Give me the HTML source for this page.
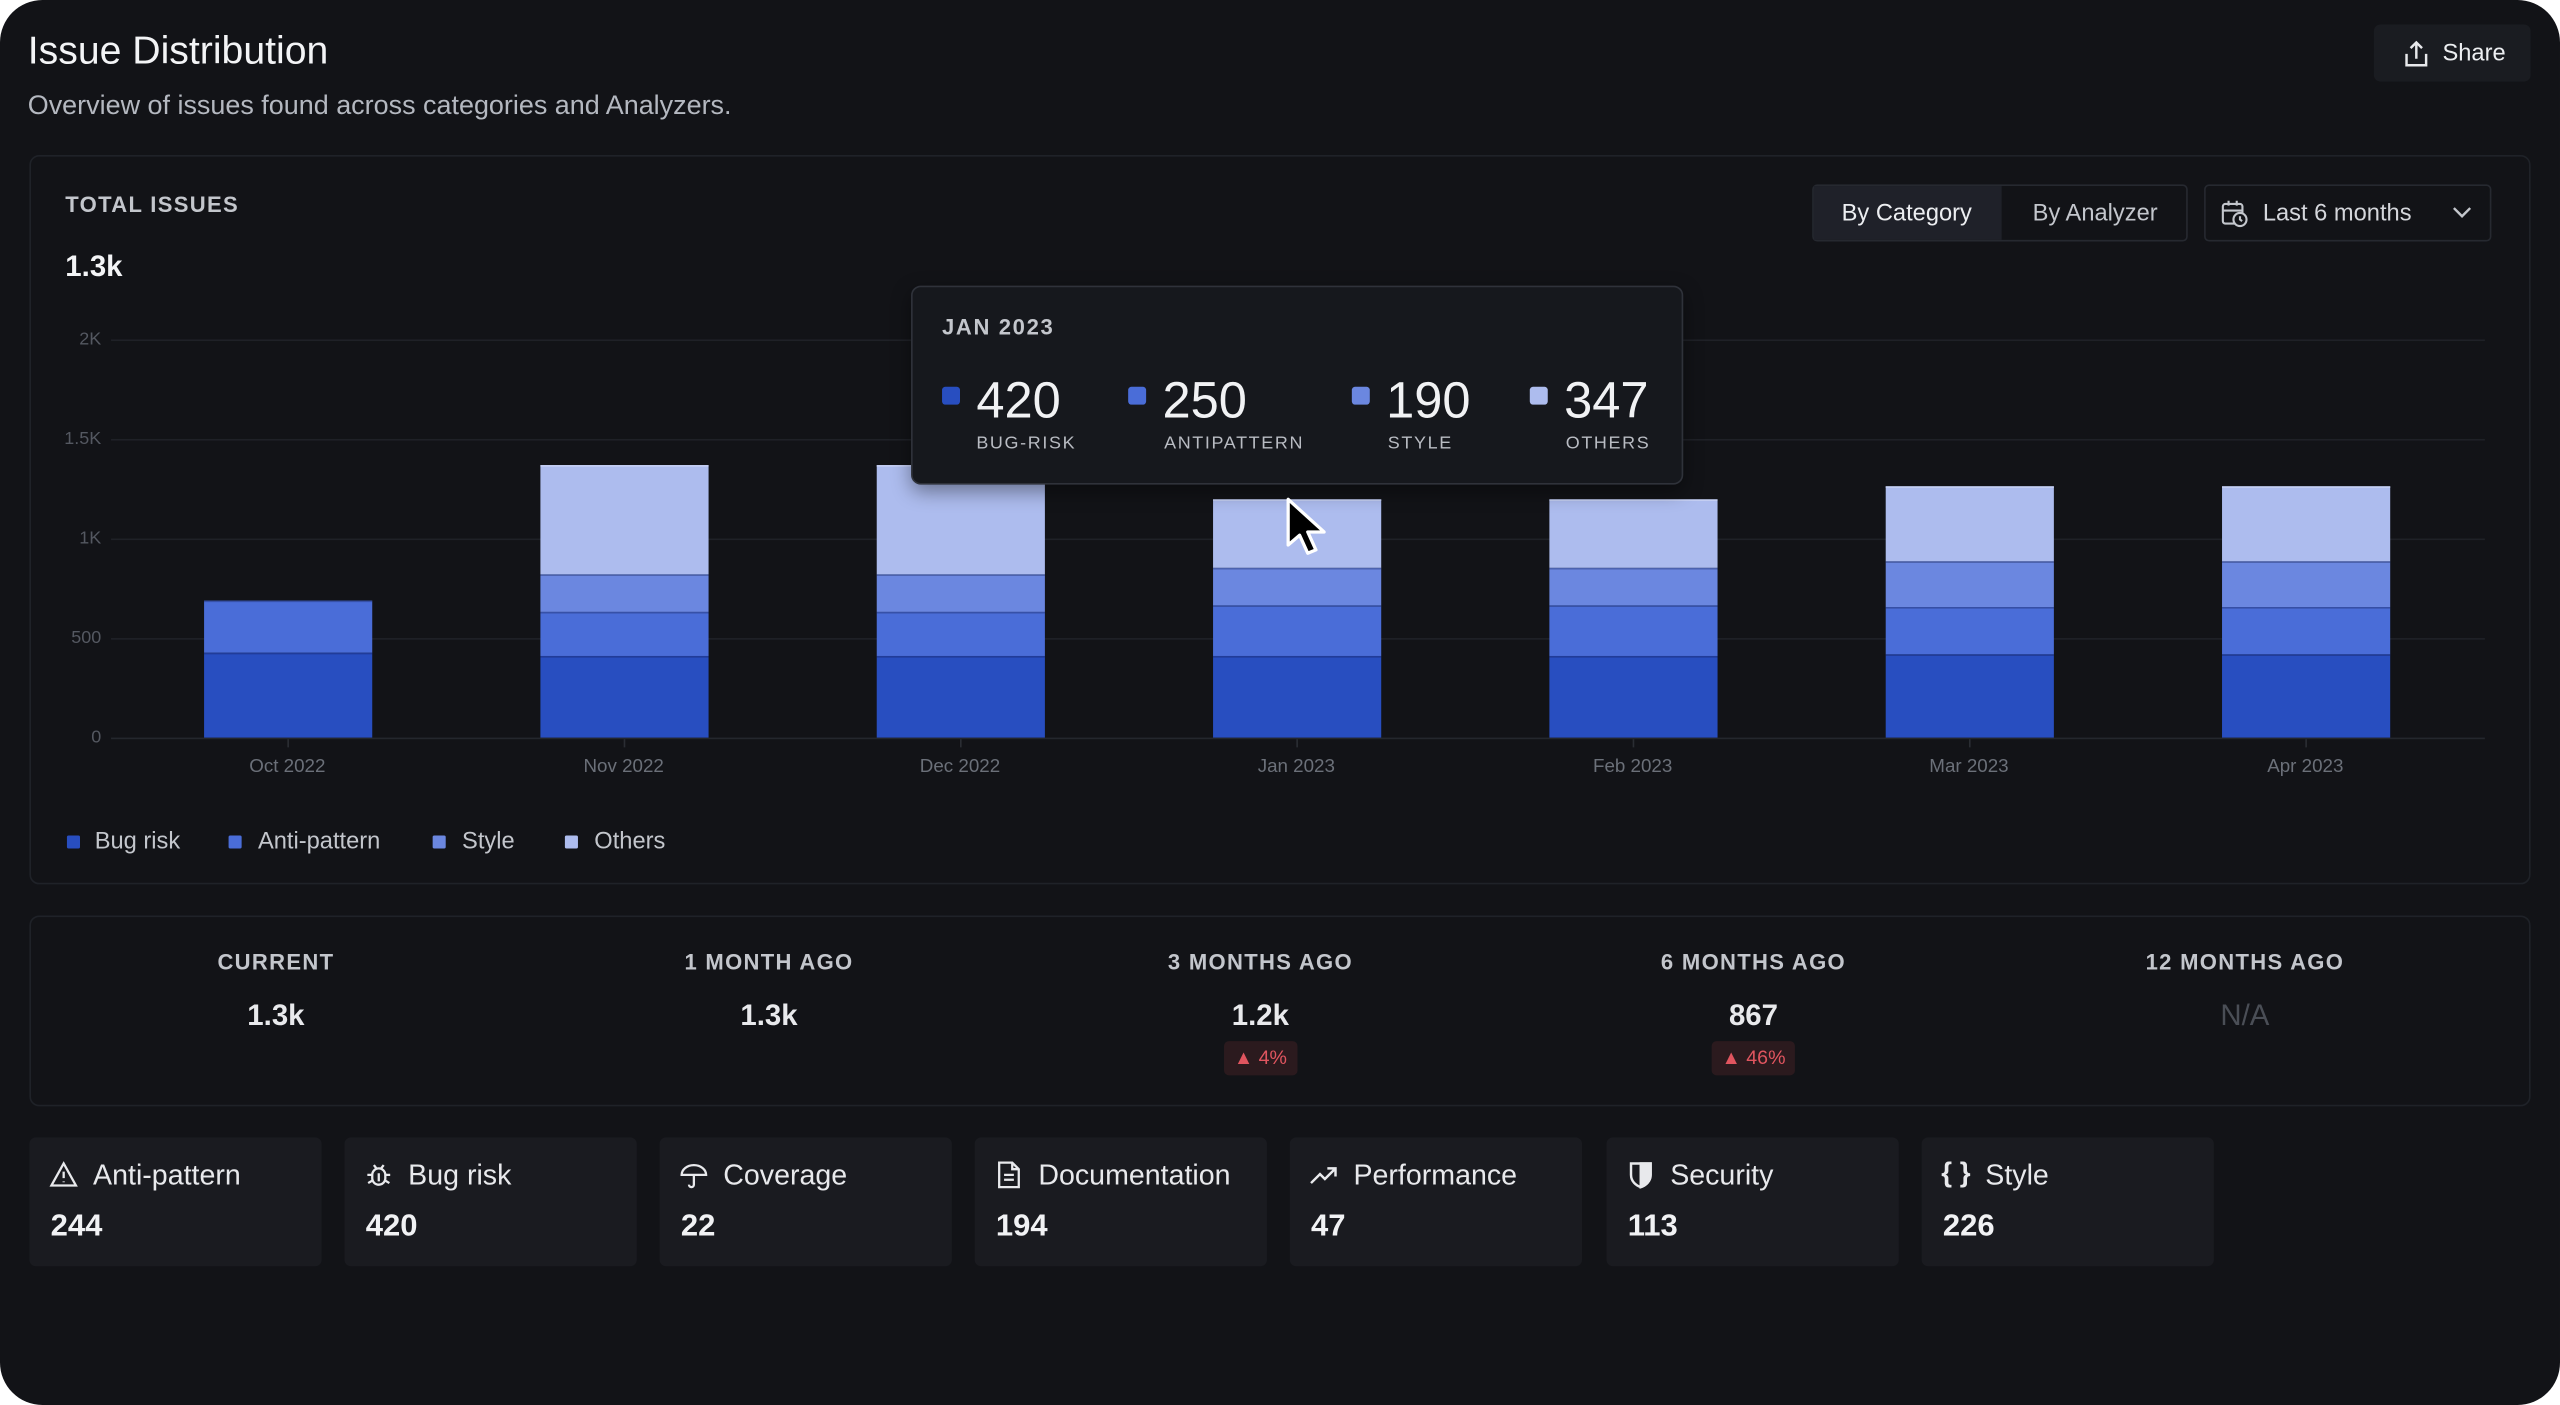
<!DOCTYPE html>
<html><head><meta charset="utf-8"><style>
*{margin:0;padding:0;box-sizing:border-box}
html,body{width:2560px;height:1405px;background:#fff;overflow:hidden}
#s{position:absolute;left:0;top:0;width:1568px;height:861px;transform:scale(1.63265,1.6318);transform-origin:0 0;font-family:"Liberation Sans",sans-serif;color:#e8e9ec}
.card{position:absolute;left:0;top:0;width:1568px;height:861px;background:#121317;border-radius:26px}
.a{position:absolute;white-space:nowrap}
.panel{position:absolute;border:1px solid #1f2228;border-radius:6px}
.cap{font-size:13.5px;font-weight:700;letter-spacing:.8px;color:#c3c6cc}
.yl{position:absolute;right:1506px;font-size:11px;color:#545861;transform:translateY(-50%)}
.gl{position:absolute;left:68px;width:1454px;height:1px;background:#1f2127}
.xl{position:absolute;font-size:11.5px;color:#6b7079;transform:translateX(-50%);top:464px}
.tk{position:absolute;width:1px;height:5px;background:#2a2d33;top:453px}
.bar{position:absolute;width:103px}
.bar div{position:absolute;left:0;width:103px;border-top:1px solid rgba(20,30,80,.35)}
.lg{position:absolute;top:512px;width:8px;height:8px;border-radius:1px}
.lt{position:absolute;top:508px;font-size:14.5px;color:#c3c6cc}
.sq{position:absolute;width:11px;height:11px;border-radius:2px;top:237px}
.tn{position:absolute;top:228px;font-size:31px;color:#f1f2f4}
.tl{position:absolute;top:266px;font-size:11px;letter-spacing:1px;color:#b9bcc3}
.sl{position:absolute;top:582px;transform:translateX(-50%)}
.sv{position:absolute;top:612px;font-size:18px;font-weight:700;transform:translateX(-50%)}
.bd{position:absolute;top:638px;height:21px;background:#2b1a1e;color:#e0555f;font-size:12px;border-radius:3px;line-height:21px;padding:0 6px;transform:translateX(-50%)}
.ic{position:absolute;top:697px;width:179px;height:79px;background:#1a1b20;border-radius:4px}
.ic .t{position:absolute;left:39px;top:13px;font-size:17.5px;color:#e8e9ec}
.ic .v{position:absolute;left:13px;top:44px;font-size:19px;font-weight:700;color:#f1f2f4}
.ic svg{position:absolute;left:12px;top:14px}
</style></head><body><div id="s">
<div class="card"></div>
<div class="a" style="left:17px;top:18px;font-size:24px;color:#f3f4f6">Issue Distribution</div>
<div class="a" style="left:17px;top:56px;font-size:16.5px;color:#b4b8c0">Overview of issues found across categories and Analyzers.</div>
<div class="a" style="left:1454px;top:15px;width:96px;height:35px;background:#1a1c21;border-radius:4px"></div>
<svg class="a" style="left:1472px;top:24px" width="16" height="18" viewBox="0 0 16 18" fill="none" stroke="#e8e9ec" stroke-width="1.5"><path d="M8 12V2M4.5 5.5L8 2l3.5 3.5M2 9v7h12V9"/></svg>
<div class="a" style="left:1496px;top:25px;font-size:14.5px;color:#eceef1">Share</div>

<div class="panel" style="left:18px;top:95px;width:1532px;height:447px"></div>
<div class="a cap" style="left:40px;top:118px">TOTAL ISSUES</div>
<div class="a" style="left:40px;top:153px;font-size:18px;font-weight:700;color:#f3f4f6">1.3k</div>
<div class="a" style="left:1110px;top:113px;width:230px;height:35px;border:1px solid #262930;border-radius:3px"></div>
<div class="a" style="left:1111px;top:114px;width:115px;height:33px;background:#1f2129"></div>
<div class="a" style="left:1128px;top:123px;font-size:14.5px;color:#eceef1">By Category</div>
<div class="a" style="left:1245px;top:123px;font-size:14.5px;color:#c3c6cc">By Analyzer</div>
<div class="a" style="left:1350px;top:113px;width:176px;height:35px;border:1px solid #262930;border-radius:3px"></div>
<svg class="a" style="left:1360px;top:122px" width="18" height="18" viewBox="0 0 18 18" fill="none" stroke="#c3c6cc" stroke-width="1.3"><rect x="1.5" y="3" width="12" height="12" rx="1.5"/><path d="M5 1v3M10 1v3M1.5 7h12"/><circle cx="12" cy="12.5" r="4" fill="#121317"/><path d="M12 10.5v2l1.3 1"/></svg>
<div class="a" style="left:1386px;top:123px;font-size:14.5px;color:#d4d6db">Last 6 months</div>
<svg class="a" style="left:1502px;top:126px" width="12" height="8" viewBox="0 0 12 8" fill="none" stroke="#c3c6cc" stroke-width="1.5"><path d="M1 1.5l5 5 5-5"/></svg>

<div class="gl" style="top:208px"></div><div class="gl" style="top:269px"></div><div class="gl" style="top:330px"></div><div class="gl" style="top:391px"></div><div class="gl" style="top:452px;background:#24272d"></div>
<div class="yl" style="top:208px">2K</div><div class="yl" style="top:269px">1.5K</div><div class="yl" style="top:330px">1K</div><div class="yl" style="top:391px">500</div><div class="yl" style="top:452px">0</div>

<div class="bar" style="left:125px"><div style="top:368px;height:32px;background:#4a6dd8"></div><div style="top:400px;height:52px;background:#284ec0"></div></div>
<div class="bar" style="left:331px"><div style="top:285px;height:67px;background:#adbcee;border-top:1px solid #c5cff3"></div><div style="top:352px;height:23px;background:#6b87e0"></div><div style="top:375px;height:27px;background:#4a6dd8"></div><div style="top:402px;height:50px;background:#284ec0"></div></div>
<div class="bar" style="left:537px"><div style="top:285px;height:67px;background:#adbcee;border-top:1px solid #c5cff3"></div><div style="top:352px;height:23px;background:#6b87e0"></div><div style="top:375px;height:27px;background:#4a6dd8"></div><div style="top:402px;height:50px;background:#284ec0"></div></div>
<div class="bar" style="left:743px"><div style="top:306px;height:42px;background:#adbcee;border-top:1px solid #c5cff3"></div><div style="top:348px;height:23px;background:#6b87e0"></div><div style="top:371px;height:31px;background:#4a6dd8"></div><div style="top:402px;height:50px;background:#284ec0"></div></div>
<div class="bar" style="left:949px"><div style="top:306px;height:42px;background:#adbcee;border-top:1px solid #c5cff3"></div><div style="top:348px;height:23px;background:#6b87e0"></div><div style="top:371px;height:31px;background:#4a6dd8"></div><div style="top:402px;height:50px;background:#284ec0"></div></div>
<div class="bar" style="left:1155px"><div style="top:298px;height:46px;background:#adbcee;border-top:1px solid #c5cff3"></div><div style="top:344px;height:28px;background:#6b87e0"></div><div style="top:372px;height:29px;background:#4a6dd8"></div><div style="top:401px;height:51px;background:#284ec0"></div></div>
<div class="bar" style="left:1361px"><div style="top:298px;height:46px;background:#adbcee;border-top:1px solid #c5cff3"></div><div style="top:344px;height:28px;background:#6b87e0"></div><div style="top:372px;height:29px;background:#4a6dd8"></div><div style="top:401px;height:51px;background:#284ec0"></div></div>

<div class="tk" style="left:176px"></div><div class="tk" style="left:382px"></div><div class="tk" style="left:588px"></div><div class="tk" style="left:794px"></div><div class="tk" style="left:1000px"></div><div class="tk" style="left:1206px"></div><div class="tk" style="left:1412px"></div>
<div class="xl" style="left:176px">Oct 2022</div><div class="xl" style="left:382px">Nov 2022</div><div class="xl" style="left:588px">Dec 2022</div><div class="xl" style="left:794px">Jan 2023</div><div class="xl" style="left:1000px">Feb 2023</div><div class="xl" style="left:1206px">Mar 2023</div><div class="xl" style="left:1412px">Apr 2023</div>

<div class="lg" style="left:41px;background:#284ec0"></div><div class="lt" style="left:58px">Bug risk</div>
<div class="lg" style="left:140px;background:#4a6dd8"></div><div class="lt" style="left:158px">Anti-pattern</div>
<div class="lg" style="left:265px;background:#6b87e0"></div><div class="lt" style="left:283px">Style</div>
<div class="lg" style="left:346px;background:#adbcee"></div><div class="lt" style="left:364px">Others</div>

<div class="a" style="left:558px;top:175px;width:473px;height:122px;background:#16181d;border:1px solid #2f323a;border-radius:6px;box-shadow:0 4px 12px rgba(0,0,0,.4)"></div>
<div class="a" style="left:577px;top:193px;font-size:13.5px;font-weight:700;letter-spacing:1px;color:#c3c6cc">JAN 2023</div>
<div class="sq" style="left:577px;background:#284ec0"></div><div class="tn" style="left:598px">420</div><div class="tl" style="left:598px">BUG-RISK</div>
<div class="sq" style="left:691px;background:#4a6dd8"></div><div class="tn" style="left:712px">250</div><div class="tl" style="left:713px">ANTIPATTERN</div>
<div class="sq" style="left:828px;background:#6b87e0"></div><div class="tn" style="left:849px">190</div><div class="tl" style="left:850px">STYLE</div>
<div class="sq" style="left:937px;background:#adbcee"></div><div class="tn" style="left:958px">347</div><div class="tl" style="left:959px">OTHERS</div>
<svg class="a" style="left:787px;top:304px" width="32" height="38" viewBox="0 0 32 38"><path d="M2 2v28l7-6 5 11 5-2-5-11h10z" fill="#000" stroke="#fff" stroke-width="2" stroke-linejoin="round"/></svg>

<div class="panel" style="left:18px;top:561px;width:1532px;height:117px"></div>
<div class="a cap sl" style="left:169px">CURRENT</div><div class="a cap sl" style="left:471px">1 MONTH AGO</div><div class="a cap sl" style="left:772px">3 MONTHS AGO</div><div class="a cap sl" style="left:1074px">6 MONTHS AGO</div><div class="a cap sl" style="left:1375px">12 MONTHS AGO</div>
<div class="a sv" style="left:169px">1.3k</div><div class="a sv" style="left:471px">1.3k</div><div class="a sv" style="left:772px">1.2k</div><div class="a sv" style="left:1074px">867</div><div class="a sv" style="left:1375px;color:#4a4e56;font-weight:400">N/A</div>
<div class="a bd" style="left:772px">▲ 4%</div><div class="a bd" style="left:1074px">▲ 46%</div>

<div class="ic" style="left:18px"><svg width="18" height="18" viewBox="0 0 18 18" fill="none" stroke="#e8e9ec" stroke-width="1.4"><path d="M9 2L1.5 15.5h15z"/><path d="M9 7v4M9 13v.5"/></svg><div class="t">Anti-pattern</div><div class="v">244</div></div>
<div class="ic" style="left:211px"><svg width="18" height="18" viewBox="0 0 18 18" fill="none" stroke="#e8e9ec" stroke-width="1.4"><rect x="5" y="5" width="8" height="10" rx="4"/><path d="M6 3l1.5 2M12 3l-1.5 2M2 9h3M13 9h3M2.5 14l2.5-1.5M15.5 14L13 12.5M9 8v5"/></svg><div class="t">Bug risk</div><div class="v">420</div></div>
<div class="ic" style="left:404px"><svg width="18" height="18" viewBox="0 0 18 18" fill="none" stroke="#e8e9ec" stroke-width="1.4"><path d="M1.5 9a7.5 6 0 0 1 15 0zM9 9v6a1.5 1.5 0 0 1-3 0"/></svg><div class="t">Coverage</div><div class="v">22</div></div>
<div class="ic" style="left:597px"><svg width="18" height="18" viewBox="0 0 18 18" fill="none" stroke="#e8e9ec" stroke-width="1.4"><path d="M3 1.5h8l4 4v11H3zM11 1.5v4h4M6 9h6M6 12h6"/></svg><div class="t">Documentation</div><div class="v">194</div></div>
<div class="ic" style="left:790px"><svg width="18" height="18" viewBox="0 0 18 18" fill="none" stroke="#e8e9ec" stroke-width="1.5"><path d="M1 14l5.5-5.5 3 3L16 5M11 5h5v5"/></svg><div class="t">Performance</div><div class="v">47</div></div>
<div class="ic" style="left:984px"><svg width="18" height="18" viewBox="0 0 18 18" fill="none" stroke="#e8e9ec" stroke-width="1.5"><path d="M3 2h12v7c0 4-3 6.5-6 7.5C6 15.5 3 13 3 9z"/><path d="M9 2v14.5" /><path d="M9 2h6v7c0 4-3 6.5-6 7.5z" fill="#e8e9ec"/></svg><div class="t">Security</div><div class="v">113</div></div>
<div class="ic" style="left:1177px"><div class="a" style="left:12px;top:12px;font-size:17px;font-weight:700;color:#e8e9ec">{ }</div><div class="t">Style</div><div class="v">226</div></div>
</div></body></html>
